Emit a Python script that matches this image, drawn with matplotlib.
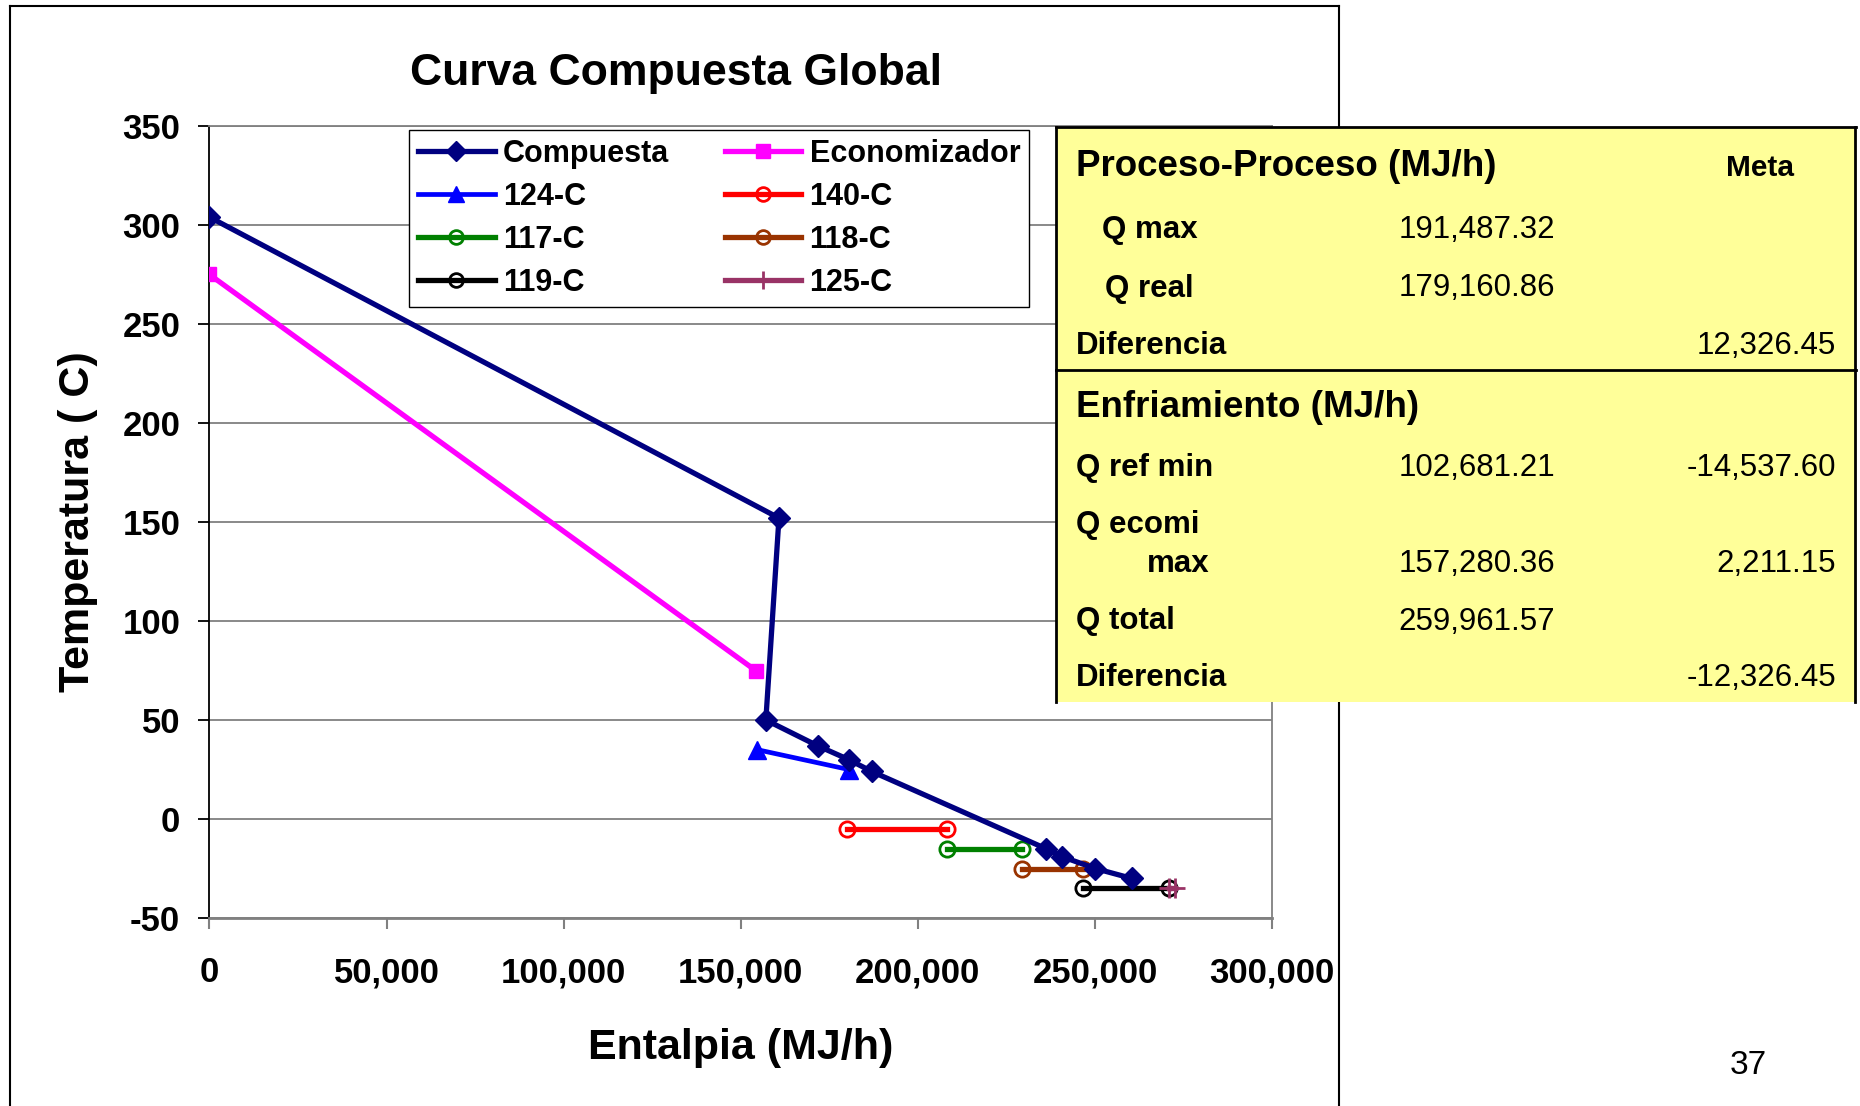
import matplotlib
matplotlib.use("Agg")
import matplotlib.pyplot as plt
from matplotlib.ticker import FuncFormatter, MultipleLocator
from matplotlib.patches import Rectangle
from matplotlib.lines import Line2D

plt.rcParams['font.family'] = ['Liberation Sans', 'DejaVu Sans']
plt.rcParams['axes.unicode_minus'] = False

W, H = 1860, 1106

# curve data (Q in MJ/h, T in C)
compuestaQ = [0, 160800, 157100, 171700, 180500, 187000, 236200, 240700, 250100, 260400]
compuestaT = [304, 152, 50, 37, 30, 24, -15, -19, -25, -30]
economizadorQ = [0, 154200]
economizadorT = [275, 75]
q124 = [154700, 180500]
t124 = [35, 25]
q140 = [180000, 208200]
t140 = [-5, -5]
q117 = [208200, 229400]
t117 = [-15, -15]
q118 = [229400, 246600]
t118 = [-25, -25]
q119 = [246600, 270800]
t119 = [-35, -35]
q125 = [271000, 272500]
t125 = [-35, -35]

# summary table
procesoLabels = ["Q max", "Q real", "Diferencia"]
procesoValues = ["191,487.32", "179,160.86", ""]
procesoMeta = ["", "", "12,326.45"]
enfriamientoLabels = ["Q ref min", "Q ecomi", "Q total", "Diferencia"]
enfriamientoValues = ["102,681.21", "157,280.36", "259,961.57", ""]
enfriamientoMeta = ["-14,537.60", "2,211.15", "", "-12,326.45"]


def fx(x):
    return x / W


def fy(y):
    return 1 - y / H


fig = plt.figure(figsize=(W / 100, H / 100), dpi=100)

# outer frame of the slide chart
fig.add_artist(Line2D([fx(9.5), fx(9.5)], [fy(6), fy(1200)], color='black', lw=1.5, zorder=0))
fig.add_artist(Line2D([fx(9.5), fx(1339)], [fy(6), fy(6)], color='black', lw=1.5, zorder=0))
fig.add_artist(Line2D([fx(1339), fx(1339)], [fy(6), fy(1200)], color='black', lw=1.5, zorder=0))

ax = fig.add_axes([fx(209.4), fy(918), fx(1272) - fx(209.4), fy(126) - fy(918)])

lw = 3.8
ax.plot(compuestaQ, compuestaT, color='#000080', lw=lw, marker='D', ms=11, label='Compuesta', zorder=5)
ax.plot(economizadorQ, economizadorT, color='#FF00FF', lw=lw, marker='s', ms=10.5, label='Economizador', zorder=4)
ax.plot(q124, t124, color='#0000FF', lw=3.4, marker='^', ms=13, label='124-C', zorder=4)
ax.plot(q140, t140, color='#FF0000', lw=lw, marker='o', ms=11, mfc='none', mew=2, label='140-C', zorder=4)
ax.plot(q117, t117, color='#008000', lw=lw, marker='o', ms=11, mfc='none', mew=2, label='117-C', zorder=4)
ax.plot(q118, t118, color='#993300', lw=lw, marker='o', ms=11, mfc='none', mew=2, label='118-C', zorder=4)
ax.plot(q119, t119, color='#000000', lw=lw, marker='o', ms=11, mfc='none', mew=2, label='119-C', zorder=4)
ax.plot(q125, t125, color='#993366', lw=lw, marker='+', ms=14, mew=2, label='125-C', zorder=4)

ax.set_xlim(0, 300000)
ax.set_ylim(-50, 350)
ax.xaxis.set_major_locator(MultipleLocator(50000))
ax.yaxis.set_major_locator(MultipleLocator(50))
ax.xaxis.set_major_formatter(FuncFormatter(lambda v, p: "{:,.0f}".format(v)))
ax.grid(axis='y', color='#808080', lw=1.3)
ax.set_axisbelow(True)
for s in ['top', 'right']:
    ax.spines[s].set_color('#808080')
    ax.spines[s].set_linewidth(1.3)
ax.spines['left'].set_color('black')
ax.spines['left'].set_linewidth(1.3)
ax.spines['bottom'].set_color('#808080')
ax.spines['bottom'].set_linewidth(2)
ax.tick_params(axis='x', direction='out', length=8, width=1.5, color='#808080', pad=19.5, labelsize=25)
ax.tick_params(axis='y', direction='out', length=8, width=1.3, color='black', pad=13, labelsize=25)
for t in ax.get_xticklabels() + ax.get_yticklabels():
    t.set_fontweight('bold')

ax.set_xlabel('Entalpia (MJ/h)', fontsize=31, fontweight='bold', labelpad=28)
ax.set_ylabel('Temperatura ( C)', fontsize=31, fontweight='bold', labelpad=17.5)
fig.text(fx(676), fy(73), 'Curva Compuesta Global', fontsize=32, fontweight='bold',
         ha='center', va='center')

handles, labels = ax.get_legend_handles_labels()
order = [0, 2, 4, 6, 1, 3, 5, 7]
leg = ax.legend([handles[i] for i in order], [labels[i] for i in order], ncol=2,
                loc='upper left', bbox_to_anchor=(fx(409), fy(130)),
                bbox_transform=fig.transFigure, frameon=True, fancybox=False,
                edgecolor='black', framealpha=1, borderaxespad=0, borderpad=0.3,
                prop={'size': 22, 'weight': 'bold'}, handlelength=2.5,
                handletextpad=0.27, columnspacing=1.83, labelspacing=0.42,
                markerscale=0.9)
leg.get_frame().set_linewidth(1)
leg.set_zorder(10)

# summary table box
fig.add_artist(Rectangle((fx(1056), fy(702)), fx(1856) - fx(1056), fy(127) - fy(702),
                         facecolor='#FFFF99', edgecolor='none', zorder=20))
for (x0, y0, x1, y1) in [(1056, 127, 1856, 127), (1056, 127, 1056, 702),
                         (1855, 127, 1855, 702), (1056, 370, 1856, 370)]:
    fig.add_artist(Line2D([fx(x0), fx(x1)], [fy(y0), fy(y1)], color='black', lw=2, zorder=21))

fig.text(fx(1076), fy(166.5), 'Proceso-Proceso (MJ/h)', fontsize=26.5, fontweight='bold',
         va='center', zorder=22)
fig.text(fx(1760), fy(168.5), 'Meta', fontsize=21.5, fontweight='bold', ha='center',
         va='center', zorder=22)
procesoRowsY = [230.5, 288.5, 346.5]
procesoLabelX = [1102, 1105, 1076]
for i in range(len(procesoLabels)):
    fig.text(fx(procesoLabelX[i]), fy(procesoRowsY[i]), procesoLabels[i], fontsize=22.5,
             fontweight='bold', va='center', zorder=22)
    fig.text(fx(1555), fy(procesoRowsY[i]), procesoValues[i], fontsize=22.5, ha='right',
             va='center', zorder=22)
    fig.text(fx(1836), fy(procesoRowsY[i]), procesoMeta[i], fontsize=22.5, ha='right',
             va='center', zorder=22)

fig.text(fx(1076), fy(407.5), 'Enfriamiento (MJ/h)', fontsize=26.5, fontweight='bold',
         va='center', zorder=22)
enfriamientoRowsY = [467.5, 563.5, 621.5, 678.5]
for i in range(len(enfriamientoLabels)):
    fig.text(fx(1076), fy(enfriamientoRowsY[i] if i != 1 else 525.5), enfriamientoLabels[i],
             fontsize=22.5, fontweight='bold', va='center', zorder=22)
    fig.text(fx(1555), fy(enfriamientoRowsY[i]), enfriamientoValues[i], fontsize=22.5,
             ha='right', va='center', zorder=22)
    fig.text(fx(1836), fy(enfriamientoRowsY[i]), enfriamientoMeta[i], fontsize=22.5,
             ha='right', va='center', zorder=22)
fig.text(fx(1147), fy(563.5), 'max', fontsize=22.5, fontweight='bold', va='center', zorder=22)

fig.text(fx(1748), fy(1065), '37', fontsize=24, ha='center', va='center')

fig.savefig('out.png', dpi=100)
